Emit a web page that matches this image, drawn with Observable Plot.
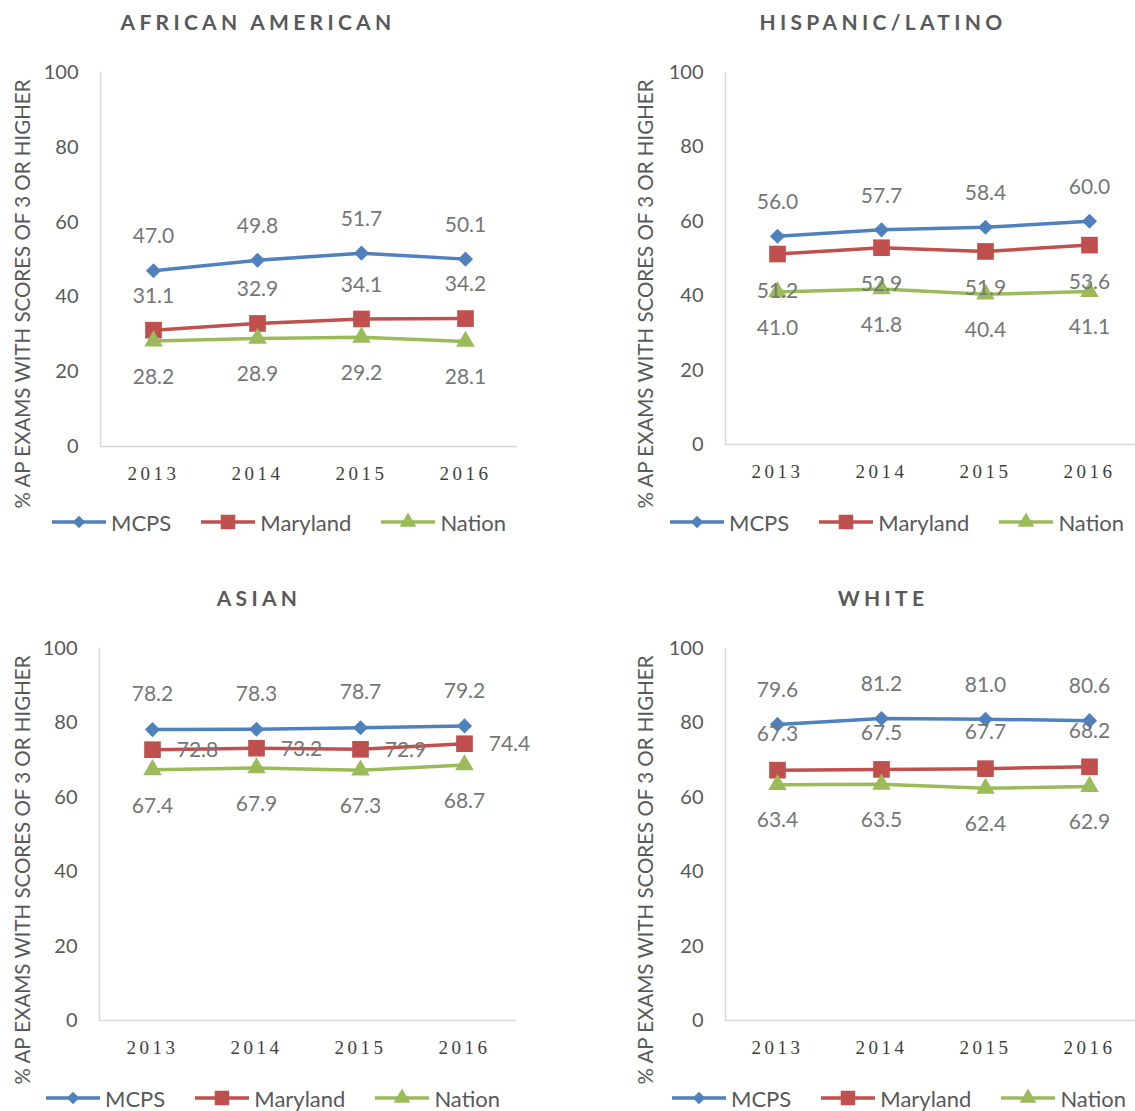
<!DOCTYPE html>
<html>
<head>
<meta charset="utf-8">
<script src="https://cdn.jsdelivr.net/npm/d3@7"></script>
<script src="https://cdn.jsdelivr.net/npm/@observablehq/plot@0.6"></script>
<style>
  html, body { margin: 0; padding: 0; background: #fff; overflow: hidden; }
  #root { position: relative; width: 1135px; height: 1111px; overflow: hidden; background: #fff; font-family: Lato, "Open Sans", sans-serif; }
  .abs { position: absolute; }
  .title { font-weight: 700; font-size: 21px; letter-spacing: 4.3px; color: #595959; text-align: center; width: 500px; line-height: 24px; white-space: nowrap; }
  .ytitle { font-size: 20.5px; color: #595959; width: 600px; text-align: center; line-height: 22px; white-space: nowrap; transform: translate(-50%, -50%) rotate(-90deg); }
  .legend { display: flex; align-items: center; font-size: 22px; color: #595959; height: 24px; white-space: nowrap; }
  .legend .item { display: flex; align-items: center; margin-right: 30px; }
  .legend .item span { margin-left: 5px; }
  g[aria-label="x-axis tick label"] text { letter-spacing: 3.5px; }
  svg { max-width: none !important; }
</style>
</head>
<body>
<div id="root"></div>
<script>
// ---- data ----
const years = ["2013", "2014", "2015", "2016"];
const yTicks = [0, 20, 40, 60, 80, 100];
const seriesNames = ["MCPS", "Maryland", "Nation"];

const aaMCPS = [47.0, 49.8, 51.7, 50.1];
const aaMaryland = [31.1, 32.9, 34.1, 34.2];
const aaNation = [28.2, 28.9, 29.2, 28.1];

const hlMCPS = [56.0, 57.7, 58.4, 60.0];
const hlMaryland = [51.2, 52.9, 51.9, 53.6];
const hlNation = [41.0, 41.8, 40.4, 41.1];

const asMCPS = [78.2, 78.3, 78.7, 79.2];
const asMaryland = [72.8, 73.2, 72.9, 74.4];
const asNation = [67.4, 67.9, 67.3, 68.7];

const whMCPS = [79.6, 81.2, 81.0, 80.6];
const whMaryland = [67.3, 67.5, 67.7, 68.2];
const whNation = [63.4, 63.5, 62.4, 62.9];

const yTitle = "% AP EXAMS WITH SCORES OF 3 OR HIGHER";

// ---- styles ----
const colors = {MCPS: "#4f81bd", Maryland: "#c0504d", Nation: "#9bbb59"};
const symbols = {MCPS: "diamond2", Maryland: "square", Nation: "triangle"};
const radius = {MCPS: 6.8, Maryland: 9.4, Nation: 6.9};
const d3symbols = {MCPS: d3.symbolDiamond2, Maryland: d3.symbolSquare, Nation: d3.symbolTriangle};
const legendSize = {MCPS: 100, Maryland: 210, Nation: 120};
const labelColor = "#767676";

const root = document.getElementById("root");

function addDiv(cls, text, styles) {
  const d = document.createElement("div");
  d.className = "abs " + cls;
  if (text != null) d.textContent = text;
  Object.assign(d.style, styles);
  root.appendChild(d);
  return d;
}

function panel(cfg) {
  const seriesData = {MCPS: cfg.mcps, Maryland: cfg.md, Nation: cfg.nation};
  const marks = [
    Plot.axisY({ticks: yTicks, tickSize: 0, tickPadding: 22, fontSize: 20, label: null}),
    Plot.axisX({tickSize: 0, tickPadding: 20, fontSize: 19, fontFamily: "Liberation Serif", label: null, fill: "#404040"}),
    Plot.ruleY([0], {stroke: "#d9d9d9", strokeWidth: 1.5}),
    Plot.frame({anchor: "left", stroke: "#d9d9d9", strokeWidth: 1.5})
  ];
  for (const s of seriesNames) {
    const rows = years.map((y, i) => ({year: y, value: seriesData[s][i]}));
    marks.push(Plot.line(rows, {x: "year", y: "value", stroke: colors[s], strokeWidth: 3.5}));
    marks.push(Plot.dot(rows, {x: "year", y: "value", symbol: () => symbols[s], r: radius[s], fill: colors[s], stroke: "none"}));
  }
  for (const s of seriesNames) {
    const rows = years.map((y, i) => ({year: y, value: seriesData[s][i]}));
    const off = cfg.offsets[s];
    marks.push(Plot.text(rows, {x: "year", y: "value", text: d => d.value.toFixed(1), dx: off[0], dy: off[1], fill: labelColor, fontSize: 21}));
  }
  const svg = Plot.plot({
    width: cfg.width,
    height: 32 + cfg.innerH + 44,
    marginTop: 32,
    marginBottom: 44,
    marginLeft: cfg.marginLeft,
    marginRight: cfg.marginRight,
    style: {fontFamily: "Lato, 'Open Sans', sans-serif", color: "#595959", background: "transparent", overflow: "visible", maxWidth: "none"},
    x: {type: "point", domain: years, padding: 0.5},
    y: {domain: [0, 100]},
    symbol: {type: "identity"},
    marks
  });
  const wrap = addDiv("", null, {left: cfg.svgLeft + "px", top: cfg.svgTop + "px", width: cfg.width + "px"});
  wrap.appendChild(svg);

  addDiv("title", cfg.title, {left: (cfg.titleX - 250) + "px", top: (cfg.titleY - 12) + "px"});
  addDiv("ytitle", yTitle, {left: cfg.ytX + "px", top: cfg.ytY + "px"});

  const lg = addDiv("legend", null, {left: cfg.legendLeft + "px", top: (cfg.legendY - 12) + "px"});
  for (const s of seriesNames) {
    const item = document.createElement("div");
    item.className = "item";
    const sw = d3.create("svg").attr("width", 54).attr("height", 24);
    sw.append("line").attr("x1", 0).attr("x2", 54).attr("y1", 12).attr("y2", 12)
      .attr("stroke", colors[s]).attr("stroke-width", 3.5);
    sw.append("path").attr("transform", "translate(27,12)")
      .attr("d", d3.symbol(d3symbols[s], legendSize[s])()).attr("fill", colors[s]);
    item.appendChild(sw.node());
    const sp = document.createElement("span");
    sp.textContent = s;
    item.appendChild(sp);
    lg.appendChild(item);
  }
}

panel({title: "AFRICAN AMERICAN", titleX: 258, titleY: 22, svgLeft: 0, svgTop: 40, width: 567, marginLeft: 100, marginRight: 50, innerH: 374,
  ytX: 22, ytY: 294, legendLeft: 52, legendY: 522,
  mcps: aaMCPS, md: aaMaryland, nation: aaNation,
  offsets: {MCPS: [0, -34], Maryland: [0, -34], Nation: [0, 36]}});

panel({title: "HISPANIC/LATINO", titleX: 883, titleY: 22, svgLeft: 620, svgTop: 40, width: 521, marginLeft: 105, marginRight: 0, innerH: 372,
  ytX: 645, ytY: 294, legendLeft: 670, legendY: 522,
  mcps: hlMCPS, md: hlMaryland, nation: hlNation,
  offsets: {MCPS: [0, -34], Maryland: [0, 37], Nation: [0, 36]}});

panel({title: "ASIAN", titleX: 259, titleY: 598, svgLeft: 0, svgTop: 616, width: 567, marginLeft: 99, marginRight: 51, innerH: 372,
  ytX: 22, ytY: 870, legendLeft: 46, legendY: 1098,
  mcps: asMCPS, md: asMaryland, nation: asNation,
  offsets: {MCPS: [0, -35], Maryland: [45, 1], Nation: [0, 36]}});

panel({title: "WHITE", titleX: 883, titleY: 598, svgLeft: 620, svgTop: 616, width: 521, marginLeft: 105, marginRight: 0, innerH: 372,
  ytX: 645, ytY: 870, legendLeft: 672, legendY: 1098,
  mcps: whMCPS, md: whMaryland, nation: whNation,
  offsets: {MCPS: [0, -34], Maryland: [0, -36], Nation: [0, 36]}});
</script>
</body>
</html>
